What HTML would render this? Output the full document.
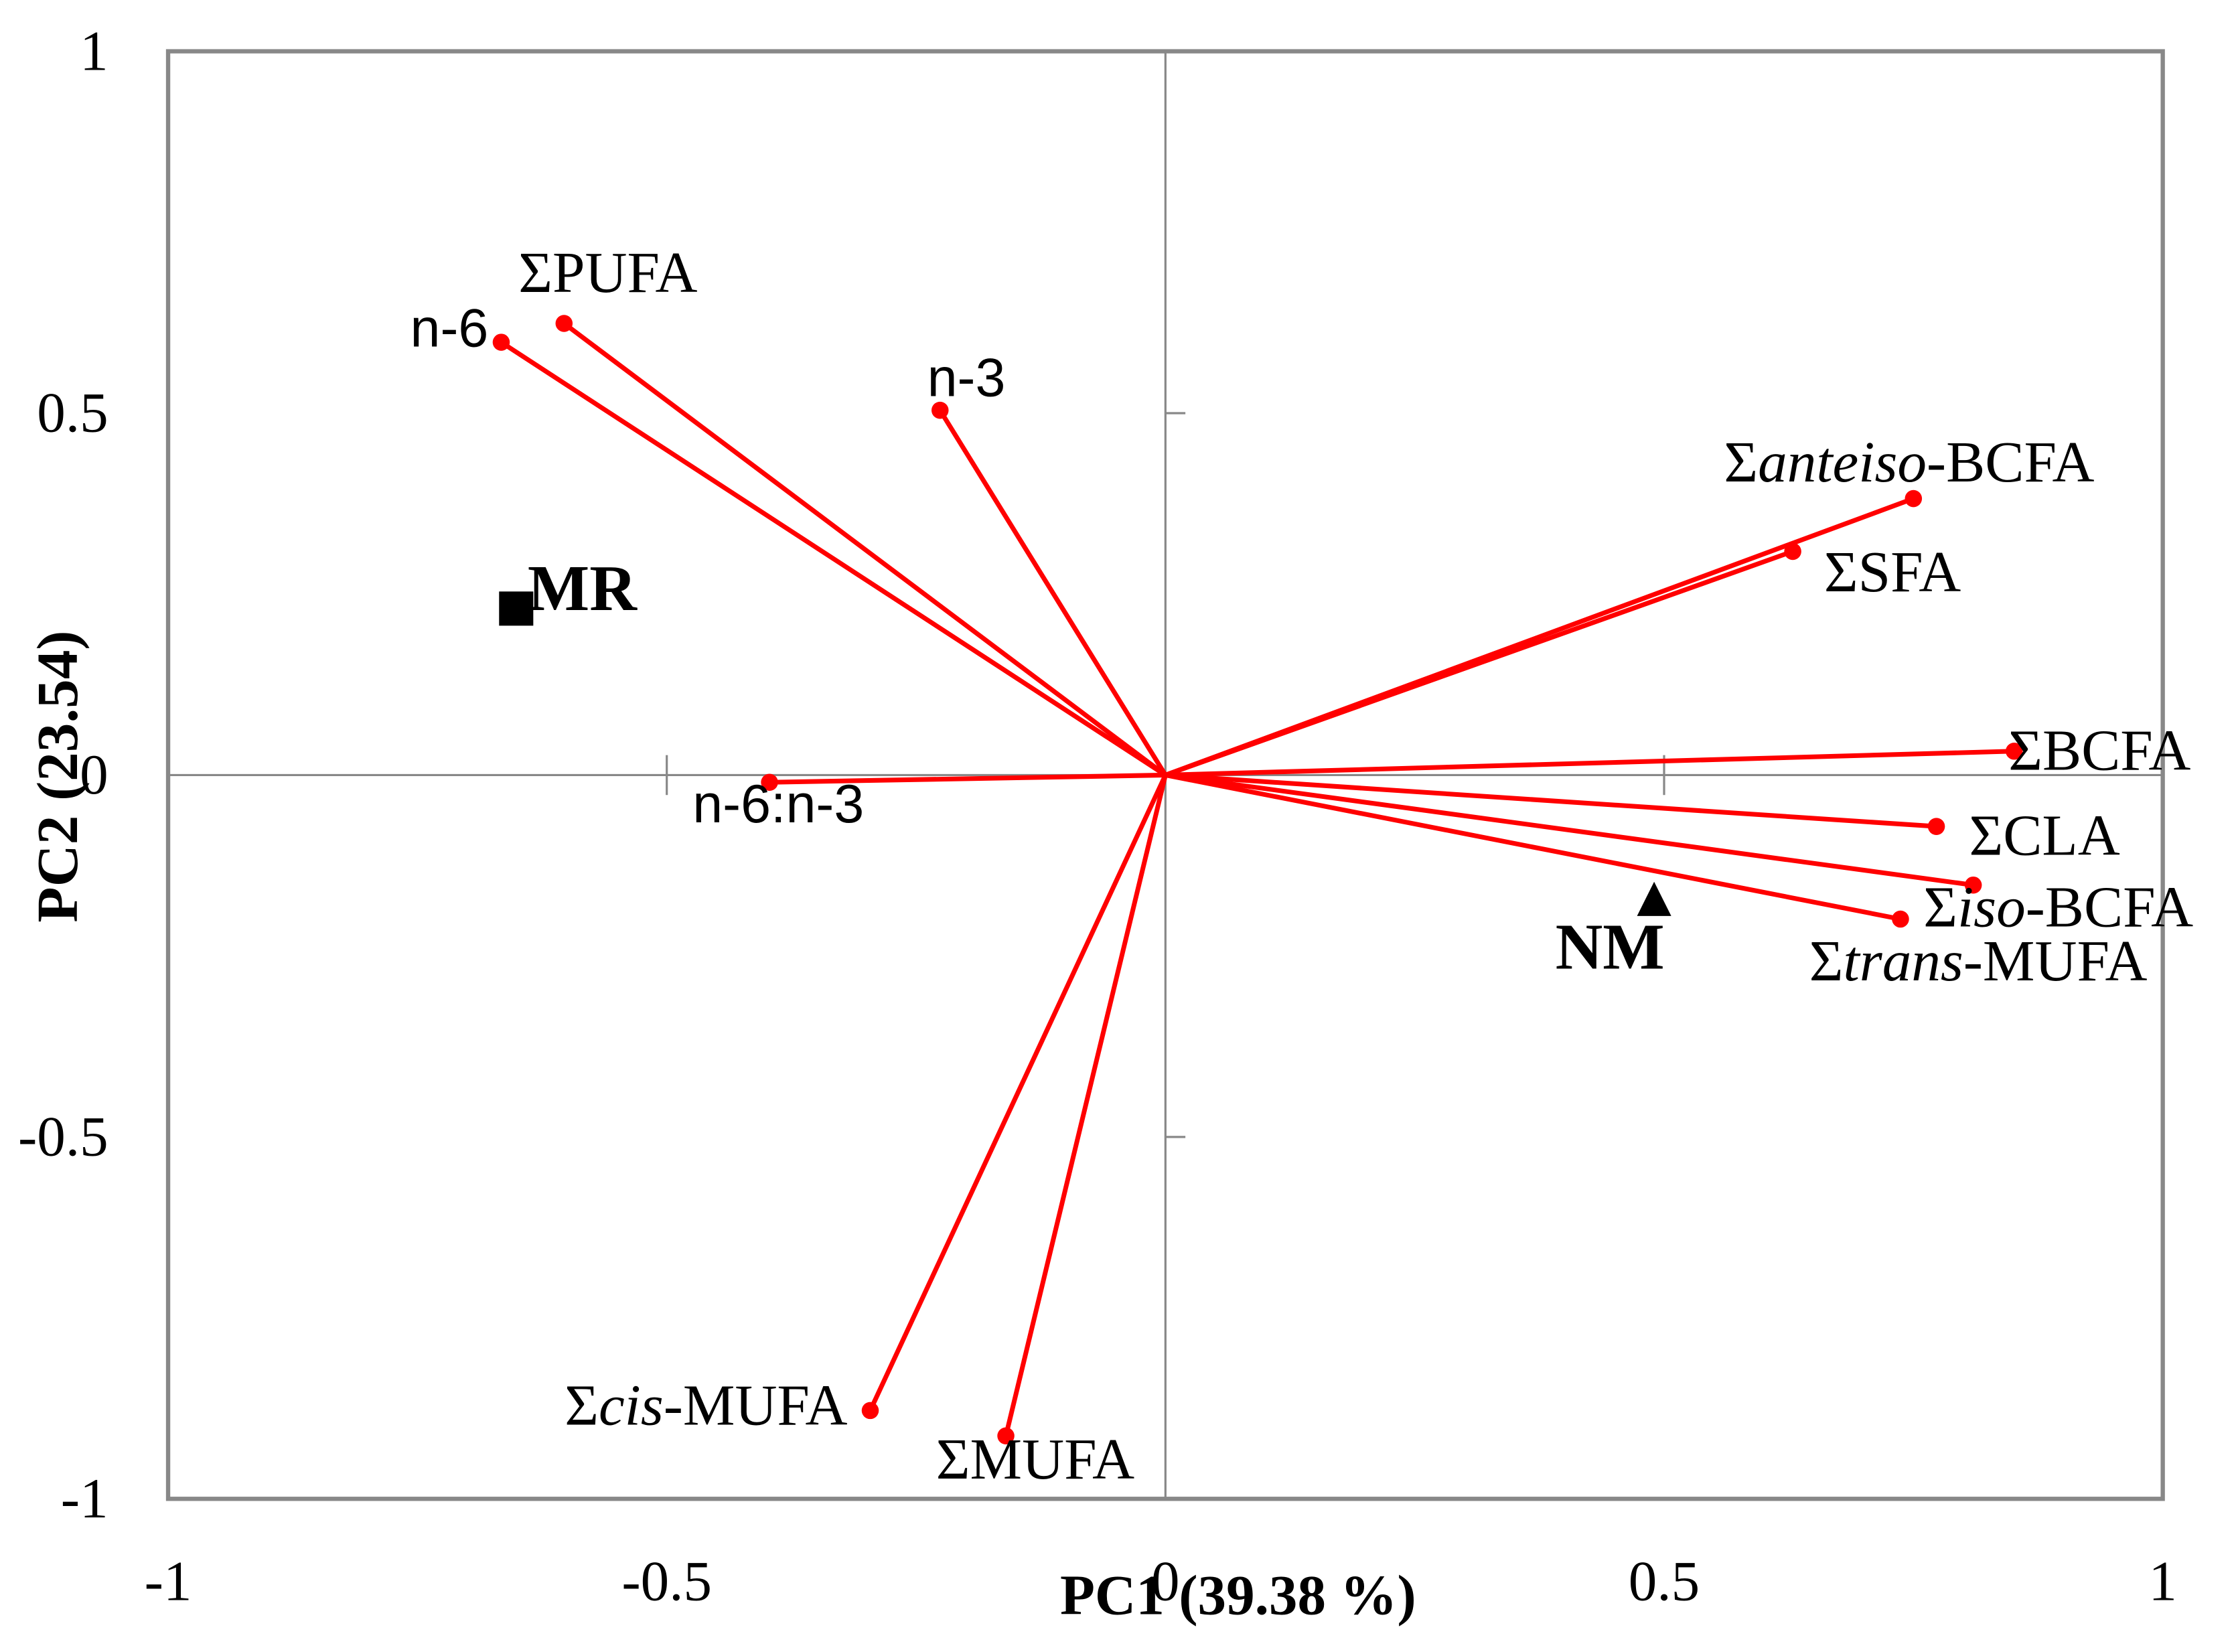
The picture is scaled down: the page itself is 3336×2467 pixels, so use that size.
<!DOCTYPE html>
<html><head><meta charset="utf-8">
<style>html,body{margin:0;padding:0;background:#fff}svg{display:block}</style>
</head><body>
<svg id="chart" xmlns="http://www.w3.org/2000/svg" width="3336" height="2467" viewBox="0 0 1568 1159.5" preserveAspectRatio="none">
<rect x="0" y="0" width="1568" height="1160" fill="#fff"/>
<g id="axes"></g>
<g id="vectors"></g>
<g id="groups"></g>
</svg>
<script>
const varNames = ["ΣPUFA","n-6","n-3","Σanteiso-BCFA","ΣSFA","ΣBCFA","ΣCLA","Σiso-BCFA","Σtrans-MUFA","n-6:n-3","Σcis-MUFA","ΣMUFA"];
const pc1 = [-0.603,-0.666,-0.226,0.750,0.629,0.851,0.773,0.810,0.737,-0.397,-0.296,-0.160];
const pc2 = [0.624,0.598,0.504,0.382,0.309,0.033,-0.071,-0.152,-0.199,-0.010,-0.878,-0.913];
const groupNames = ["MR","NM"];
const groupPc1 = [-0.651,0.490];
const groupPc2 = [0.230,-0.173];
const xTicks = ["-1","-0.5","0","0.5","1"];
const yTicks = ["1","0.5","0","-0.5","-1"];

const NS="http://www.w3.org/2000/svg";
const L=118,R=1518,T=36,B=1052;
const sx=v=>L+(v+1)/2*(R-L);
const sy=v=>B-(v+1)/2*(B-T);
function mk(tag,attrs,parent,text){const e=document.createElementNS(NS,tag);for(const k in attrs)e.setAttribute(k,attrs[k]);if(text!==undefined)e.textContent=text;parent.appendChild(e);return e;}
const axes=document.getElementById('axes'),vec=document.getElementById('vectors'),grp=document.getElementById('groups');
const serif='"Liberation Serif", serif', sans='"Liberation Sans", sans-serif';

let e=mk('rect',{x:L,y:T,width:R-L,height:B-T,fill:'none',stroke:'#888',"stroke-width":3},axes);

e=mk('line',{x1:L,x2:R,y1:sy(0),y2:sy(0),stroke:'#888',"stroke-width":1.5},axes);

e=mk('line',{x1:sx(0),x2:sx(0),y1:T,y2:B,stroke:'#888',"stroke-width":1.5},axes);

[-0.5,0.5].forEach(v=>{
  let t=mk('line',{x1:sx(v),x2:sx(v),y1:sy(0)-14,y2:sy(0)+14,stroke:'#888',"stroke-width":1.5},axes);
  
  t=mk('line',{x1:sx(0),x2:sx(0)+14,y1:sy(v),y2:sy(v),stroke:'#888',"stroke-width":1.5},axes);
  
});
xTicks.forEach((s,i)=>{const v=-1+i*0.5;
  const t=mk('text',{x:sx(v),y:1123,"text-anchor":"middle","font-family":serif,"font-size":40},axes,s);
  });
yTicks.forEach((s,i)=>{const v=1-i*0.5;
  const t=mk('text',{x:76,y:sy(v)+13,"text-anchor":"end","font-family":serif,"font-size":40},axes,s);
  });
e=mk('text',{x:869,y:1133,"text-anchor":"middle","font-family":serif,"font-size":40,"font-weight":"bold"},axes,'PC1 (39.38 %)');

e=mk('text',{x:0,y:0,"text-anchor":"middle","font-family":serif,"font-size":41,"font-weight":"bold",transform:'translate(54,545) rotate(-90)'},axes,'PC2 (23.54)');


const lab = {
 "ΣPUFA":[-32,-22,'start',serif],"n-6":[-9,3,'end',sans],"n-3":[-9,-10,'start',sans],
 "Σanteiso-BCFA":[-133,-12,'start',serif],"ΣSFA":[22,28,'start',serif],"ΣBCFA":[-4,13,'start',serif],
 "ΣCLA":[23,20,'start',serif],"Σiso-BCFA":[-35,29,'start',serif],"Σtrans-MUFA":[-64,43,'start',serif],
 "n-6:n-3":[-54,28,'start',sans],"Σcis-MUFA":[-16,10,'end',serif],"ΣMUFA":[-49,30,'start',serif]};
const italic={"Σanteiso-BCFA":["anteiso","-BCFA"],"Σiso-BCFA":["iso","-BCFA"],"Σtrans-MUFA":["trans","-MUFA"],"Σcis-MUFA":["cis","-MUFA"]};
varNames.forEach((n,i)=>{
  const x=sx(pc1[i]),y=sy(pc2[i]);
  const ln=mk('line',{x1:sx(0),y1:sy(0),x2:x,y2:y,stroke:'#f00',"stroke-width":3.3},vec);
  
  const c=mk('circle',{cx:x,cy:y,r:6,fill:'#f00'},vec);
  
  const o=lab[n];
  const t=mk('text',{x:x+o[0],y:y+o[1],"text-anchor":o[2],"font-family":o[3],"font-size":o[3]===sans?38:41},vec);
  
  if(italic[n]){mk('tspan',{},t,'Σ');mk('tspan',{"font-style":"italic"},t,italic[n][0]);mk('tspan',{},t,italic[n][1]);}
  else t.textContent=n;
});
groupNames.forEach((n,i)=>{
  const x=sx(groupPc1[i]),y=sy(groupPc2[i]);
  let m;
  if(n==="MR"){m=mk('rect',{x:x-12,y:y-12,width:24,height:24,fill:'#000'},grp);}
  else{m=mk('polygon',{points:`${x},${y-13} ${x-12},${y+11} ${x+12},${y+11}`,fill:'#000'},grp);}
  
  const off = n==="MR"?[8,1,'start']:[-31,48,'middle'];
  const t=mk('text',{x:x+off[0],y:y+off[1],"text-anchor":off[2],"font-family":serif,"font-size":46,"font-weight":"bold"},grp,n);
  
});
</script>
</body></html>
